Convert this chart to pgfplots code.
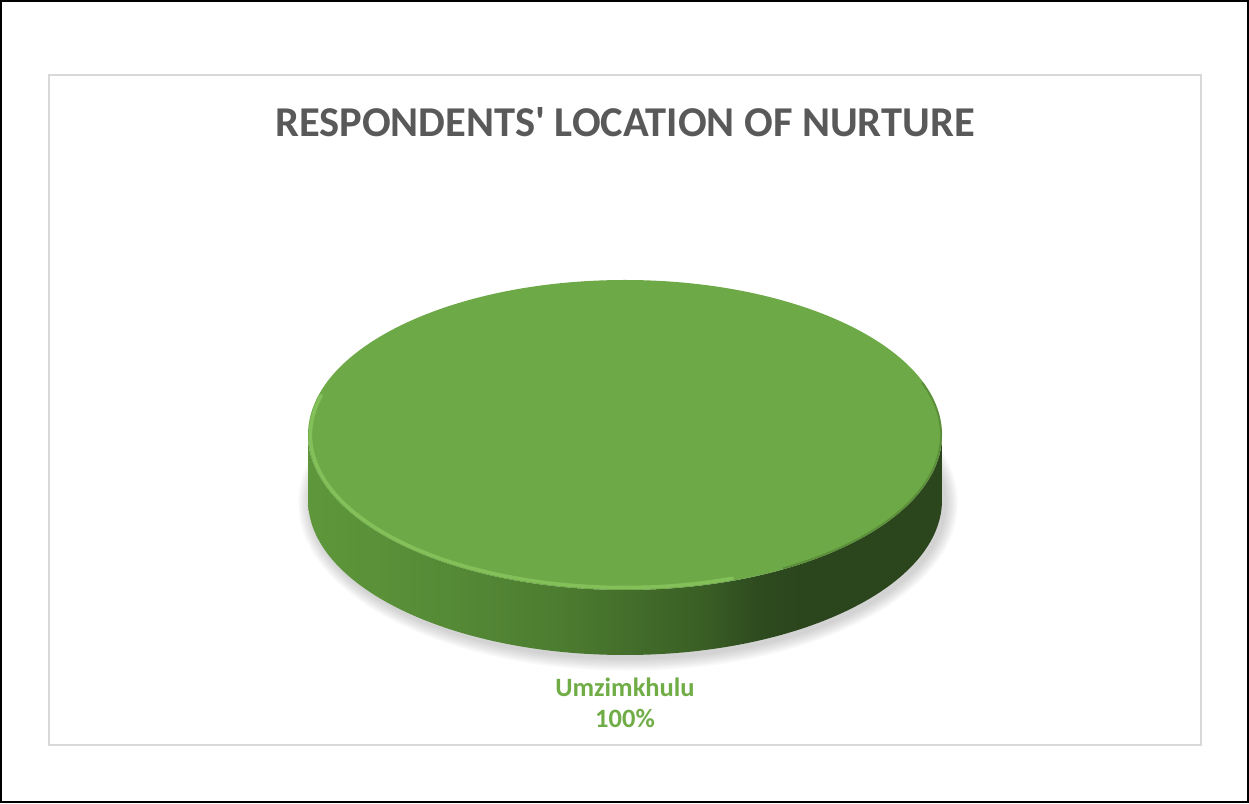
\documentclass[border=0pt]{standalone}
\usepackage{pgfplots}
\pgfplotsset{compat=1.18}
\usepackage{pgfplotstable}
\usepackage{fontspec}
\setmainfont{Carlito}[Ligatures=TeXOff]
\definecolor{titlegray}{HTML}{595959}
\definecolor{piegreen}{HTML}{6DA946}
\definecolor{labelgreen}{HTML}{70AD47}
\definecolor{framegray}{HTML}{D9D9D9}
\definecolor{rimlight}{HTML}{8FCB63}
\definecolor{s1}{HTML}{5E973B}
\definecolor{s2}{HTML}{558A36}
\definecolor{s3}{HTML}{4C7C30}
\definecolor{s4}{HTML}{426C2A}
\definecolor{s5}{HTML}{3A5F25}
\definecolor{s6}{HTML}{2E4B1F}
\definecolor{s7}{HTML}{2B451D}
\pgfdeclarehorizontalshading{sideshade}{100bp}{color(0bp)=(s1); color(25bp)=(s1); color(36bp)=(s2); color(45bp)=(s3); color(51bp)=(s4); color(56bp)=(s5); color(60.5bp)=(s6); color(64bp)=(s7); color(75bp)=(s7); color(100bp)=(s7)}
\pgfplotstableread{
label value
Umzimkhulu 100
}\piedata
\pgfplotstablegetelem{0}{value}\of\piedata
\xdef\pieval{\pgfplotsretval}
\pgfmathsetmacro\pieangle{3.6*\pieval}
\xdef\pieangle{\pieangle}
\begin{document}
\begin{tikzpicture}
\begin{axis}[
  hide axis, scale only axis,
  width=1249pt, height=803pt,
  xmin=0, xmax=1249, ymin=0, ymax=803,
  clip=false,
]
% frames
\draw[black, line width=2pt] (axis cs:1,1) rectangle (axis cs:1248,802);
\draw[framegray, line width=2pt] (axis cs:49,58) rectangle (axis cs:1201,728);
% title
\node[font=\fontsize{42.5}{50}\selectfont\bfseries, text=titlegray] at (axis cs:625,681) {RESPONDENTS' LOCATION OF NURTURE};
% shadow
\pgfplotsinvokeforeach{1,...,8}{
  \fill[black, opacity=0.025] (axis cs:628,300) ellipse [x radius={317pt+#1*1.6pt}, y radius={155pt+#1*1.6pt}];
}
% side
\shade[shading=sideshade] (axis cs:308,368) -- (axis cs:308,303)
  arc[start angle=180, end angle=360, x radius=317pt, y radius=155pt]
  -- (axis cs:942,368)
  arc[start angle=0, end angle=-180, x radius=317pt, y radius=155pt] -- cycle;
% top face (slice of the value)
\fill[piegreen] (axis cs:625,368) -- ++(317pt,0pt)
  arc[start angle=0, end angle=\pieangle, x radius=317pt, y radius=155pt] -- cycle;
% rim highlights
\draw[rimlight, line width=3.5pt, opacity=0.7, line cap=round]
  (axis cs:625,368) ++({cos(165)*314.5pt},{sin(165)*152.5pt})
  arc[start angle=165, end angle=290, x radius=314.5pt, y radius=152.5pt];
\draw[s5, line width=2pt, opacity=0.35]
  (axis cs:625,368) ++({cos(300)*316pt},{sin(300)*154pt})
  arc[start angle=300, end angle=380, x radius=316pt, y radius=154pt];
% data label
\node[font=\fontsize{26.5}{30}\selectfont\bfseries, text=labelgreen, align=center] at (axis cs:625,100.5) {Umzimkhulu\\[1pt]\pieval\%};
\end{axis}
\end{tikzpicture}
\end{document}
